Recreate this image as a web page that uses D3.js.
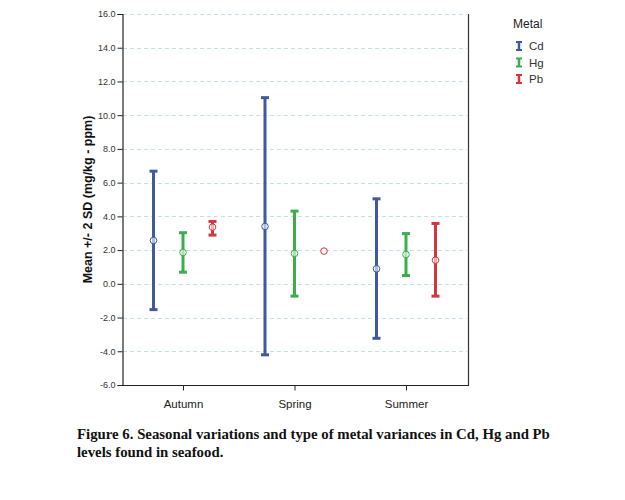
<!DOCTYPE html>
<html>
<head>
<meta charset="utf-8">
<script src="https://cdn.jsdelivr.net/npm/d3@7"></script>
<style>
body{margin:0;background:#fff;}
svg{display:block;}
</style>
</head>
<body>
<svg id="chart" width="625" height="500"></svg>
<script>
const seasons = ["Autumn", "Spring", "Summer"];
const metals = ["Cd", "Hg", "Pb"];
const metalColors = ["#3e5a9c", "#3aae4b", "#d2363f"];
// mean, lower (mean - 2SD), upper (mean + 2SD); null = no error bar
const cdMean  = [2.57, 3.40, 0.89];
const cdLow   = [-1.53, -4.21, -3.23];
const cdHigh  = [6.68, 11.04, 5.04];
const hgMean  = [1.86, 1.80, 1.74];
const hgLow   = [0.69, -0.73, 0.49];
const hgHigh  = [3.03, 4.31, 2.98];
const pbMean  = [3.36, 1.94, 1.40];
const pbLow   = [2.89, null, -0.73];
const pbHigh  = [3.70, null, 3.58];
const yTicks = [-6, -4, -2, 0, 2, 4, 6, 8, 10, 12, 14, 16];

const series = [
  {metal: "Cd", mean: cdMean, low: cdLow, high: cdHigh},
  {metal: "Hg", mean: hgMean, low: hgLow, high: hgHigh},
  {metal: "Pb", mean: pbMean, low: pbLow, high: pbHigh}
];
const points = [];
series.forEach((s, si) => seasons.forEach((season, i) => {
  points.push({season, metal: s.metal, mi: si, mean: s.mean[i], low: s.low[i], high: s.high[i]});
}));

const svg = d3.select("#chart");
const L = 122, R = 468, T = 14, B = 385;

const y = d3.scaleLinear().domain([-6, 16]).range([B, T]);
const x = d3.scalePoint().domain(seasons).range([L + 61, R - 62]);
const off = d3.scalePoint().domain(metals).range([-29.5, 29.5]);
const color = d3.scaleOrdinal().domain(metals).range(metalColors);

// gridlines
svg.append("g").selectAll("line").data(yTicks).join("line")
  .attr("x1", L + 1).attr("x2", R - 1)
  .attr("y1", d => Math.round(y(d)) + 0.5).attr("y2", d => Math.round(y(d)) + 0.5)
  .attr("stroke", "#c3e0e6").attr("stroke-width", 1).attr("stroke-dasharray", "4,3");

// right border
svg.append("line").attr("x1", R + 0.5).attr("x2", R + 0.5).attr("y1", T).attr("y2", B)
  .attr("stroke", "#333").attr("stroke-width", 1.2);

// y axis
const fmt = d => d3.format(".1f")(d).replace("\u2212", "-");
const yAxis = svg.append("g").attr("transform", `translate(${L + 0.5},0)`)
  .call(d3.axisLeft(y).tickValues(yTicks).tickFormat(fmt).tickSize(5).tickPadding(2));
yAxis.select(".domain").attr("stroke", "#222").attr("stroke-width", 1.2);
yAxis.selectAll(".tick line").attr("stroke", "#222");
yAxis.selectAll("text").attr("font-family", "Liberation Sans, Arial, sans-serif").attr("font-size", 9).attr("fill", "#333");

// x axis
const xAxis = svg.append("g").attr("transform", `translate(0,${B + 0.5})`)
  .call(d3.axisBottom(x).tickSize(5).tickPadding(9).tickSizeOuter(0));
xAxis.select(".domain").attr("stroke", "#222").attr("stroke-width", 1.2)
  .attr("d", `M${L},0H${R + 1}`);
xAxis.selectAll(".tick line").attr("stroke", "#222");
xAxis.selectAll("text").attr("font-family", "Liberation Sans, Arial, sans-serif").attr("font-size", 11.5).attr("fill", "#222");

// y axis title
svg.append("text")
  .attr("transform", `translate(92,${(T + B) / 2}) rotate(-90)`)
  .attr("text-anchor", "middle")
  .attr("font-family", "Liberation Sans, Arial, sans-serif")
  .attr("font-weight", "bold").attr("font-size", 12.5).attr("fill", "#111")
  .text("Mean +/- 2 SD (mg/kg - ppm)");

// error bars
const px = d => x(d.season) + off(d.metal);
const bars = svg.append("g").selectAll("g").data(points.filter(d => d.low !== null)).join("g")
  .attr("stroke", d => color(d.metal));
bars.append("line")
  .attr("x1", px).attr("x2", px)
  .attr("y1", d => y(d.low)).attr("y2", d => y(d.high)).attr("stroke-width", 3);
bars.append("line")
  .attr("x1", d => px(d) - 4).attr("x2", d => px(d) + 4)
  .attr("y1", d => y(d.high)).attr("y2", d => y(d.high)).attr("stroke-width", 3);
bars.append("line")
  .attr("x1", d => px(d) - 4).attr("x2", d => px(d) + 4)
  .attr("y1", d => y(d.low)).attr("y2", d => y(d.low)).attr("stroke-width", 3);

// mean markers
svg.append("g").selectAll("circle").data(points).join("circle")
  .attr("cx", px).attr("cy", d => y(d.mean)).attr("r", 3.3)
  .attr("fill", "#fff").attr("fill-opacity", 0.6)
  .attr("stroke", d => color(d.metal)).attr("stroke-width", 1);

// legend
const lg = svg.append("g").attr("font-family", "Liberation Sans, Arial, sans-serif");
lg.append("text").attr("x", 513).attr("y", 28).attr("font-size", 12).attr("fill", "#222").text("Metal");
const items = lg.selectAll("g.item").data(metals).join("g").attr("class", "item")
  .attr("transform", (d, i) => `translate(519,${46 + i * 16.5})`);
items.append("line").attr("x1", 0).attr("x2", 0).attr("y1", -4).attr("y2", 4)
  .attr("stroke", d => color(d)).attr("stroke-width", 2.5);
items.append("line").attr("x1", -3).attr("x2", 3).attr("y1", -4).attr("y2", -4)
  .attr("stroke", d => color(d)).attr("stroke-width", 2);
items.append("line").attr("x1", -3).attr("x2", 3).attr("y1", 4).attr("y2", 4)
  .attr("stroke", d => color(d)).attr("stroke-width", 2);
items.append("text").attr("x", 10).attr("y", 4).attr("font-size", 11.5).attr("fill", "#333").text(d => d);

// caption
const cap = svg.append("text").attr("font-family", "Liberation Serif, Times New Roman, serif")
  .attr("font-weight", "bold").attr("font-size", 14.8).attr("fill", "#111");
cap.append("tspan").attr("x", 77).attr("y", 439)
  .text("Figure 6. Seasonal variations and type of metal variances in Cd, Hg and Pb");
cap.append("tspan").attr("x", 77).attr("y", 457).text("levels found in seafood.");
</script>
</body>
</html>
